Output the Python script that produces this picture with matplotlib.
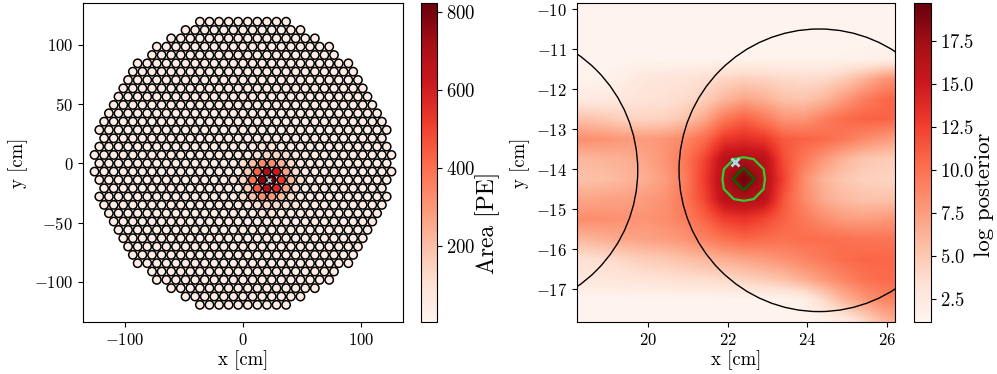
import numpy as np
import matplotlib
matplotlib.use("Agg")
import matplotlib.pyplot as plt
from matplotlib.patches import Circle
from matplotlib.collections import PatchCollection
from matplotlib.colors import Normalize
from matplotlib.cm import ScalarMappable

plt.rcParams['font.family'] = 'serif'
plt.rcParams['font.serif'] = ['cmr10']
plt.rcParams['mathtext.fontset'] = 'cm'
plt.rcParams['axes.formatter.use_mathtext'] = True
plt.rcParams['font.size'] = 12
plt.rcParams['xtick.labelsize'] = 12
plt.rcParams['ytick.labelsize'] = 12
plt.rcParams['axes.labelsize'] = 13.5
plt.rcParams['axes.unicode_minus'] = True

# ---------------- data ----------------
# PMT array: number of PMTs per hexagonal row, from top row (17) to bottom row (-17)
row_index = list(range(17, -18, -1))
row_counts = [10, 13, 16, 19, 20, 23, 24, 25, 26, 27, 28, 29, 30, 31, 30, 31, 32,
              31,
              32, 31, 30, 31, 30, 29, 28, 27, 26, 25, 24, 23, 20, 19, 16, 13, 10]
baseline_area = 50  # PE on PMTs far from the event
zoom_rows = [-2]    # PMT rows outlined in the zoomed panel

# lit PMTs: row index, half-pitch column index, area [PE]
lit_row = [-2, -2, -2, -2, -2, -2, -2, -2,
           -1, -1, -1, -1, -1, -1,
           -3, -3, -3, -3, -3, -3,
           0, 0, 0, 0, 0, 0,
           -4, -4, -4, -4, -4, -4,
           1, 1, 1, 1, 1,
           -5, -5, -5, -5, -5,
           2, 2, -6, -6]
lit_col = [6, 4, 8, 2, 10, 0, 12, -2,
           5, 7, 3, 9, 1, 11,
           5, 7, 3, 9, 1, 11,
           4, 6, 2, 8, 0, 10,
           4, 6, 2, 8, 0, 10,
           3, 5, 7, 9, 11,
           3, 5, 7, 9, 11,
           4, 6, 4, 6]
lit_area = [823, 760, 520, 380, 210, 130, 100, 85,
            700, 610, 430, 280, 160, 110,
            690, 570, 450, 260, 160, 105,
            330, 320, 200, 230, 110, 130,
            320, 300, 190, 210, 105, 120,
            110, 140, 140, 120, 85,
            105, 135, 130, 110, 85,
            85, 85, 85, 85]

# reconstructed event position
event_x = [22.18]
event_y = [-13.83]

# log posterior map (cell centres)
post_x = [17.9, 18.4, 18.9, 19.4, 19.9, 20.4, 20.9, 21.4, 21.9,
          22.4, 22.9, 23.4, 23.9, 24.4, 24.9, 25.4, 25.9, 26.4]
post_y = [-9.75, -10.25, -10.75, -11.25, -11.75, -12.25, -12.75, -13.25, -13.75,
          -14.25, -14.75, -15.25, -15.75, -16.25, -16.75, -17.25, -17.75, -18.25]
log_post = [
    [1.3]*18,
    [1.3]*18,
    [1.3]*18,
    [1.3, 1.3, 1.3, 1.3, 1.3, 1.3, 1.3, 1.3, 1.4, 1.4, 1.4, 1.4, 1.4, 1.4, 1.5, 1.6, 1.8, 2.0],
    [1.4, 1.4, 1.5, 2.0, 2.7, 2.9, 3.1, 3.5, 4.1, 4.5, 4.3, 3.9, 3.7, 3.9, 4.8, 6.2, 7.8, 8.8],
    [2.4, 2.4, 2.5, 2.8, 3.1, 3.3, 3.7, 4.5, 6.0, 7.0, 6.4, 5.4, 5.2, 6.0, 7.6, 9.2, 10.4, 10.9],
    [5.4, 5.4, 5.0, 4.4, 4.2, 4.4, 5.2, 6.9, 9.6, 10.9, 9.6, 8.0, 7.9, 9.2, 10.3, 10.8, 10.8, 10.5],
    [8.3, 8.3, 8.1, 7.7, 7.6, 7.9, 8.7, 10.3, 13.0, 13.6, 13.0, 11.2, 10.8, 10.4, 9.6, 8.6, 7.8, 7.0],
    [6.0, 6.0, 6.2, 6.5, 7.0, 8.0, 9.6, 12.2, 16.2, 16.8, 16.2, 11.8, 9.6, 7.8, 6.2, 5.2, 4.8, 4.6],
    [5.4, 5.4, 5.6, 6.0, 6.5, 7.5, 9.2, 12.8, 16.8, 19.7, 16.8, 12.4, 8.4, 6.2, 5.1, 4.5, 4.2, 4.2],
    [7.0, 7.0, 7.2, 7.3, 7.6, 8.1, 9.6, 12.2, 16.2, 16.8, 16.2, 11.4, 8.6, 6.7, 5.8, 5.3, 5.3, 5.6],
    [8.4, 8.4, 8.3, 8.1, 8.0, 8.4, 9.2, 10.7, 12.6, 13.2, 12.2, 10.8, 9.6, 8.4, 7.6, 7.4, 7.7, 8.0],
    [6.1, 6.1, 6.5, 7.0, 7.2, 7.5, 8.0, 9.0, 10.0, 10.6, 10.3, 10.0, 10.2, 10.2, 10.0, 9.8, 9.8, 9.8],
    [3.4, 3.4, 3.7, 4.2, 4.7, 5.0, 5.5, 6.0, 6.6, 7.1, 7.6, 8.2, 8.9, 9.6, 10.3, 10.6, 10.6, 10.3],
    [2.7, 2.7, 2.7, 2.9, 3.1, 3.3, 3.5, 3.7, 3.9, 4.4, 4.9, 5.5, 6.6, 7.8, 8.9, 9.9, 10.4, 10.4],
    [1.3, 1.3, 1.3, 1.3, 1.3, 1.3, 1.3, 1.3, 1.3, 1.3, 1.4, 1.5, 2.0, 4.0, 6.2, 7.8, 8.8, 9.3],
    [1.3]*13 + [1.6, 2.6, 4.2, 6.2, 7.2],
    [1.3]*14 + [1.6, 2.6, 4.2, 5.2],
]
contour_levels = [16.5, 18.1]

# ---------------- geometry / style ----------------
pitch = 8.1
row_h = pitch * np.sqrt(3) / 2
pmt_r = 3.53
area_vmin, area_vmax = 6, 823
post_vmin, post_vmax = 1.14, 19.74

lit_lookup = {(r, c): a for r, c, a in zip(lit_row, lit_col, lit_area)}
px, py, pa, pk = [], [], [], []
for k, n in zip(row_index, row_counts):
    cols = np.arange(n) * 2 - (n - 1)
    for j in cols:
        px.append(j * pitch / 2)
        py.append(k * row_h)
        pk.append(k)
        pa.append(lit_lookup.get((k, int(j)), baseline_area))

W, H = 997, 374
fig = plt.figure(figsize=(W / 100, H / 100), dpi=100)
ax1 = fig.add_axes([83 / W, 52 / H, 320 / W, 319 / H])
cax1 = fig.add_axes([421 / W, 52 / H, 15.5 / W, 319 / H])
ax2 = fig.add_axes([577 / W, 52 / H, 318 / W, 319 / H])
cax2 = fig.add_axes([914 / W, 52 / H, 16.5 / W, 319 / H])

cmap = plt.get_cmap('Reds')
norm1 = Normalize(area_vmin, area_vmax)
patches = [Circle((x, y), pmt_r) for x, y in zip(px, py)]
pc = PatchCollection(patches, cmap=cmap, norm=norm1, edgecolor='black', linewidth=1.1)
pc.set_array(np.array(pa))
ax1.add_collection(pc)

PX, PY = np.meshgrid(post_x, post_y)
Z = np.array(log_post)
ax1.contour(PX, PY, Z, levels=contour_levels, colors=['limegreen', 'darkgreen'], linewidths=0.8)
ax1.plot(event_x, event_y, 'x', color='lightblue', ms=3, mew=1.0)
ax1.set_xlim(-135.3, 135.3)
ax1.set_ylim(-133.7, 135.0)
ax1.set_xticks([-100, 0, 100])
ax1.set_yticks([-100, -50, 0, 50, 100])
ax1.set_xlabel('x [cm]', labelpad=2)
ax1.set_ylabel('y [cm]')

cb1 = fig.colorbar(ScalarMappable(norm=norm1, cmap=cmap), cax=cax1)
cb1.set_ticks([200, 400, 600, 800])
cb1.ax.tick_params(labelsize=13.5)
cb1.set_label('Area [PE]', fontsize=17, labelpad=0)
cb1.ax.yaxis.label.set_y(0.31)

dx = post_x[1] - post_x[0]
dy = post_y[0] - post_y[1]
im = ax2.imshow(Z, cmap=cmap, vmin=post_vmin, vmax=post_vmax, origin='upper',
                extent=[post_x[0] - dx / 2, post_x[-1] + dx / 2,
                        post_y[-1] - dy / 2, post_y[0] + dy / 2],
                interpolation='bilinear', aspect='auto')
zoom_circles = [Circle((x, y), pmt_r) for x, y, k in zip(px, py, pk) if k in zoom_rows]
ax2.add_collection(PatchCollection(zoom_circles, facecolor='none',
                                   edgecolor='black', linewidth=1.0))
ax2.contour(PX, PY, Z, levels=contour_levels, colors=['limegreen', 'darkgreen'], linewidths=1.6)
ax2.plot(event_x, event_y, 'x', color='lightblue', ms=6, mew=2.0)
ax2.set_xlim(18.2, 26.21)
ax2.set_ylim(-17.82, -9.85)
ax2.set_xticks([20, 22, 24, 26])
ax2.set_yticks([-17, -16, -15, -14, -13, -12, -11, -10])
ax2.set_xlabel('x [cm]', labelpad=2)
ax2.set_ylabel('y [cm]')

cb2 = fig.colorbar(im, cax=cax2)
cb2.ax.tick_params(labelsize=13.5)
cb2.set_label('log posterior', fontsize=16.5, labelpad=0)
cb2.ax.yaxis.label.set_y(0.40)

fig.savefig('out.png', dpi=100)
